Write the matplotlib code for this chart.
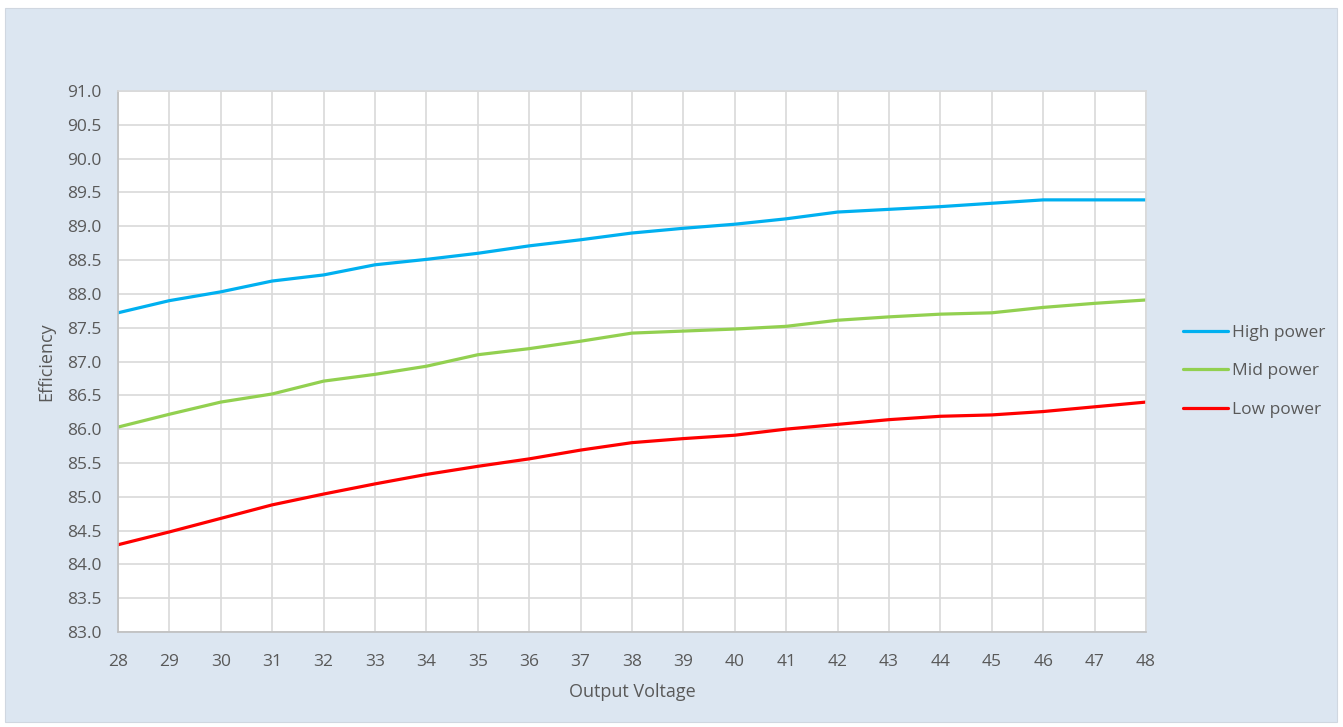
import numpy as np
import matplotlib.pyplot as plt
from matplotlib.patches import Rectangle

# output voltage sweep
voltage = [28, 29, 30, 31, 32, 33, 34, 35, 36, 37, 38, 39, 40, 41, 42, 43, 44, 45, 46, 47, 48]

high_power = [87.72, 87.90, 88.03, 88.19, 88.28, 88.43, 88.51, 88.60, 88.71, 88.80, 88.90,
              88.97, 89.03, 89.11, 89.21, 89.25, 89.29, 89.34, 89.39, 89.39, 89.39]
mid_power = [86.03, 86.22, 86.40, 86.52, 86.71, 86.81, 86.93, 87.10, 87.19, 87.30, 87.42,
             87.45, 87.48, 87.52, 87.61, 87.66, 87.70, 87.72, 87.80, 87.86, 87.91]
low_power = [84.29, 84.48, 84.68, 84.88, 85.04, 85.19, 85.33, 85.45, 85.56, 85.69, 85.80,
             85.86, 85.91, 86.00, 86.07, 86.14, 86.19, 86.21, 86.26, 86.33, 86.40]

series = [("High power", high_power, "#00B0F0"),
          ("Mid power", mid_power, "#92D050"),
          ("Low power", low_power, "#FF0000")]

plt.rcParams['font.family'] = ['Open Sans', 'DejaVu Sans']

fig = plt.figure(figsize=(13.43, 7.27), dpi=100)
fig.patch.set_facecolor("white")
# light blue chart area
fig.patches.append(Rectangle((5 / 1343, 5 / 727), 1332 / 1343, 714 / 727,
                             transform=fig.transFigure, facecolor="#DCE6F1",
                             edgecolor="#D0D7E0", linewidth=0.8, zorder=-10))

ax = fig.add_axes([118 / 1343, 1 - 632 / 727, 1028 / 1343, 541 / 727])
ax.set_zorder(5)
ax.set_facecolor("white")

for name, vals, col in series:
    ax.plot(voltage, vals, color=col, linewidth=2.3, label=name, solid_capstyle="round")

ax.set_xlim(28, 48)
ax.set_ylim(83, 91)
ax.set_xticks(np.arange(28, 49, 1))
ax.set_yticks(np.arange(83, 91.01, 0.5))
ax.set_yticklabels([f"{v:.1f}" for v in np.arange(83, 91.01, 0.5)])
ax.grid(True, color="#D9D9D9", linewidth=1.2)
ax.set_axisbelow(True)
for s in ax.spines.values():
    s.set_color("#D9D9D9")
    s.set_linewidth(1.2)
ax.spines["bottom"].set_color("#BFBFBF")
ax.spines["left"].set_color("#BFBFBF")
ax.tick_params(length=0, labelsize=12.5, labelcolor="#595959")
ax.tick_params(axis="x", pad=16)
ax.tick_params(axis="y", pad=12)

ax.set_xlabel("Output Voltage", fontsize=13, color="#595959", labelpad=9)
ax.set_ylabel("Efficiency", fontsize=13, color="#595959", labelpad=8)

leg = ax.legend(loc="center left", bbox_to_anchor=(1.021, 0.482), frameon=False,
                fontsize=12.5, labelcolor="#595959", handlelength=2.6,
                handletextpad=0.2, labelspacing=1.3)

fig.savefig("out.png", dpi=100, facecolor=fig.get_facecolor())
